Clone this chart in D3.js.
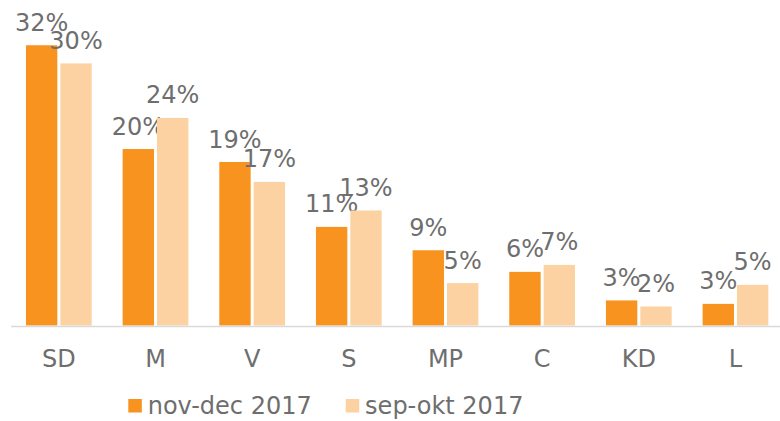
<!DOCTYPE html>
<html>
<head>
<meta charset="utf-8">
<script src="https://cdn.jsdelivr.net/npm/d3@7"></script>
<style>
  body { margin: 0; background: #fff; }
  text { font-family: "DejaVu Sans", Verdana, sans-serif; fill: #6e6e6e; }
</style>
</head>
<body>
<div id="chart"></div>
<script>
// party abbreviations on the x axis
const parties = ["SD", "M", "V", "S", "MP", "C", "KD", "L"];
// series names (legend)
const seriesNames = ["nov-dec 2017", "sep-okt 2017"];
// percent values
const novDec = [32.4, 20.4, 18.9, 11.4, 8.7, 6.2, 2.9, 2.5];
const sepOkt = [30.3, 24.0, 16.6, 13.3, 4.9, 7.0, 2.2, 4.7];
const colors = ["#f7931e", "#fcd2a2"];

const width = 780;
const height = 421;

const rows = parties.map((p, i) => ({ party: p, values: [novDec[i], sepOkt[i]] }));

const svg = d3
  .select("#chart")
  .append("svg")
  .attr("width", width)
  .attr("height", height);

// SCALES
const x0 = d3
  .scaleBand()
  .domain(parties)
  .range([10.5, 783.8])
  .paddingInner(0.32)
  .paddingOuter(0.16);

const x1 = d3
  .scaleBand()
  .domain(seriesNames)
  .range([0, x0.bandwidth()])
  .paddingInner(0.0875);

const y = d3.scaleLinear().domain([0, 35]).range([325.5, 325.5 - 35 * 8.65]);

// one group per party
const groups = svg
  .selectAll("g.party")
  .data(rows)
  .enter()
  .append("g")
  .attr("class", "party")
  .attr("transform", (d) => `translate(${x0(d.party)},0)`);

const bars = groups
  .selectAll("g.bar")
  .data((d) => d.values.map((v, i) => ({ name: seriesNames[i], value: v, i: i })))
  .enter()
  .append("g")
  .attr("class", "bar");

bars
  .append("rect")
  .attr("x", (d) => x1(d.name))
  .attr("y", (d) => y(d.value))
  .attr("width", x1.bandwidth())
  .attr("height", (d) => y(0) - y(d.value))
  .attr("fill", (d) => colors[d.i]);

// value labels above the bars
bars
  .append("text")
  .attr("x", (d) => x1(d.name) + x1.bandwidth() / 2)
  .attr("y", (d) => y(d.value) - 14.5)
  .attr("text-anchor", "middle")
  .style("font-size", "24px")
  .text((d) => Math.round(d.value) + "%");

// x axis
const xAxis = d3.axisBottom(x0).tickSize(0).tickPadding(24);
const axisG = svg.append("g").attr("transform", "translate(0,326)").call(xAxis);
axisG.select(".domain").attr("stroke", "#d9d9d9").attr("stroke-width", 1.5);
axisG
  .selectAll("text")
  .style("font-size", "24px")
  .style("font-family", '"DejaVu Sans", Verdana, sans-serif')
  .attr("fill", "#6e6e6e");

// legend
const legend = svg.append("g").attr("class", "legend");
let lx = 128.3;
seriesNames.forEach((name, i) => {
  legend
    .append("rect")
    .attr("x", lx)
    .attr("y", 399)
    .attr("width", 13.5)
    .attr("height", 13.5)
    .attr("fill", colors[i]);
  const t = legend
    .append("text")
    .attr("x", lx + 19.4)
    .attr("y", 414)
    .style("font-size", "24px")
    .text(name);
  lx = lx + 19.4 + t.node().getComputedTextLength() + 34;
});
</script>
</body>
</html>
